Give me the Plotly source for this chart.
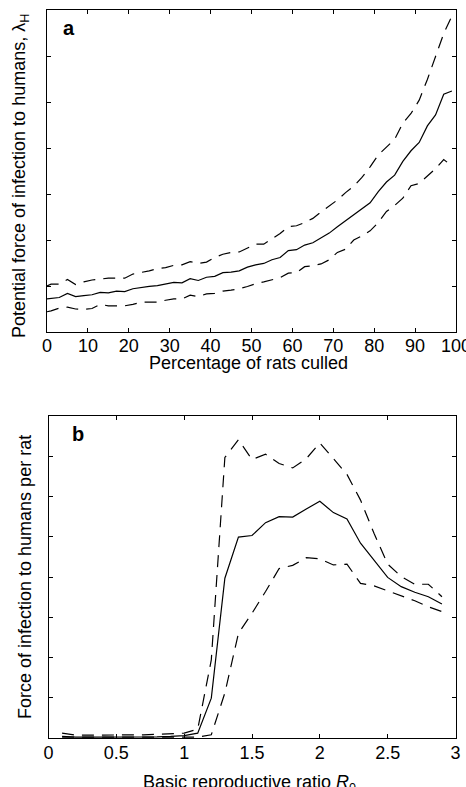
import plotly.graph_objects as go

# Panel a data
a_x = [0, 1, 3, 5, 7, 9, 11, 13, 15, 17, 19, 21, 23, 25, 27, 29, 31, 33, 35, 37, 39,
       41, 43, 45, 47, 49, 51, 53, 55, 57, 59, 61, 63, 65, 67, 69, 71, 73, 75, 77, 79,
       81, 83, 85, 87, 89, 91, 93, 95, 97, 99]
a_mean = [0.72, 0.73, 0.75, 0.84, 0.77, 0.79, 0.81, 0.86, 0.85, 0.89, 0.88, 0.94, 0.97, 0.99,
          1.01, 1.04, 1.08, 1.07, 1.16, 1.12, 1.19, 1.21, 1.29, 1.30, 1.33, 1.41, 1.46, 1.49,
          1.57, 1.62, 1.77, 1.79, 1.89, 1.94, 2.04, 2.15, 2.29, 2.42, 2.57, 2.70, 2.81, 3.05,
          3.26, 3.41, 3.71, 3.94, 4.12, 4.48, 4.72, 5.17, 5.24]
a_upper = [1.00, 1.04, 1.04, 1.14, 1.03, 1.09, 1.13, 1.15, 1.17, 1.17, 1.17, 1.26, 1.29, 1.33,
           1.38, 1.40, 1.45, 1.46, 1.53, 1.49, 1.52, 1.62, 1.69, 1.73, 1.74, 1.83, 1.91, 1.91,
           2.03, 2.14, 2.29, 2.31, 2.38, 2.47, 2.61, 2.74, 2.87, 3.03, 3.17, 3.36, 3.59, 3.85,
           4.03, 4.19, 4.54, 4.75, 5.04, 5.49, 5.99, 6.49, 6.87]
a_lower = [0.44, 0.46, 0.52, 0.54, 0.50, 0.49, 0.51, 0.60, 0.57, 0.57, 0.57, 0.60, 0.65, 0.65,
           0.65, 0.69, 0.72, 0.72, 0.80, 0.77, 0.83, 0.84, 0.89, 0.91, 0.94, 0.99, 1.05, 1.09,
           1.14, 1.18, 1.28, 1.29, 1.42, 1.44, 1.48, 1.57, 1.73, 1.80, 2.00, 2.09, 2.20, 2.38,
           2.62, 2.75, 2.91, 3.18, 3.23, 3.40, 3.55, 3.75, 3.61]

# Panel b data
b_x = [0.1, 0.2, 0.3, 0.4, 0.5, 0.6, 0.7, 0.8, 0.9, 1.0, 1.1, 1.2, 1.3, 1.4, 1.5,
       1.6, 1.7, 1.8, 1.9, 2.0, 2.1, 2.2, 2.3, 2.4, 2.5, 2.6, 2.7, 2.8, 2.9]
b_mean = [0.04, 0.02, 0.02, 0.02, 0.02, 0.02, 0.02, 0.03, 0.04, 0.06, 0.12, 0.99, 3.97, 4.99,
          5.03, 5.35, 5.50, 5.49, 5.69, 5.88, 5.60, 5.44, 4.84, 4.42, 3.99, 3.76, 3.62, 3.51, 3.33]
b_upper = [0.12, 0.07, 0.07, 0.07, 0.07, 0.07, 0.08, 0.09, 0.10, 0.12, 0.22, 1.94, 6.97, 7.41,
           6.92, 7.05, 6.82, 6.71, 6.94, 7.33, 6.94, 6.55, 5.91, 5.08, 4.32, 4.01, 3.82, 3.82, 3.51]
b_lower = [0.02, 0.02, 0.02, 0.02, 0.02, 0.02, 0.02, 0.02, 0.02, 0.02, 0.02, 0.08, 1.12, 2.60,
           3.10, 3.64, 4.21, 4.29, 4.48, 4.45, 4.30, 4.32, 3.84, 3.78, 3.66, 3.53, 3.41, 3.26, 3.14]

FONT = "Liberation Sans, Arial, Helvetica, sans-serif"
W, H = 466, 787

fig = go.Figure()
solid = dict(color="black", width=1.2)
dashed = dict(color="black", width=1.2, dash="12px,8px")

fig.add_trace(go.Scatter(x=a_x, y=a_upper, mode="lines", line=dashed, xaxis="x", yaxis="y"))
fig.add_trace(go.Scatter(x=a_x, y=a_mean, mode="lines", line=solid, xaxis="x", yaxis="y"))
fig.add_trace(go.Scatter(x=a_x, y=a_lower, mode="lines", line=dashed, xaxis="x", yaxis="y"))
fig.add_trace(go.Scatter(x=b_x, y=b_upper, mode="lines", line=dashed, xaxis="x2", yaxis="y2"))
fig.add_trace(go.Scatter(x=b_x, y=b_mean, mode="lines", line=solid, xaxis="x2", yaxis="y2"))
fig.add_trace(go.Scatter(x=b_x, y=b_lower, mode="lines", line=dashed, xaxis="x2", yaxis="y2"))

axis_common = dict(showline=True, linecolor="black", linewidth=1, mirror="ticks",
                   ticks="inside", ticklen=4, tickcolor="black", tickwidth=1,
                   showgrid=False, zeroline=False, fixedrange=True, automargin=False,
                   ticklabeloverflow="allow",
                   tickfont=dict(family=FONT, size=18, color="black"))

def px_dom_x(l, r):
    return [l / W, r / W]

def px_dom_y(top, bottom):
    return [(H - bottom) / H, (H - top) / H]

fig.update_layout(
    width=W, height=H,
    margin=dict(l=0, r=0, t=0, b=0),
    paper_bgcolor="white", plot_bgcolor="white",
    showlegend=False,
    xaxis=dict(axis_common, domain=px_dom_x(47, 456), range=[0, 100], tickvals=list(range(0, 101, 10)),
               anchor="y", ticklabelstandoff=-3),
    yaxis=dict(axis_common, domain=px_dom_y(10, 332), range=[0, 7], tickvals=list(range(0, 8)),
               showticklabels=False, anchor="x"),
    xaxis2=dict(axis_common, domain=px_dom_x(48.5, 455.5), range=[0, 3],
                tickvals=[0, 0.5, 1, 1.5, 2, 2.5, 3], ticktext=["0", "0.5", "1", "1.5", "2", "2.5", "3"],
                anchor="y2", ticklabelstandoff=-2),
    yaxis2=dict(axis_common, domain=px_dom_y(416, 738), range=[0, 8], tickvals=list(range(0, 9)),
                showticklabels=False, anchor="x2"),
)

ann_font = dict(family=FONT, size=18, color="black")
fig.add_annotation(x=248 / W, y=(H - 363) / H, xref="paper", yref="paper",
                   text="Percentage of rats culled", showarrow=False, font=ann_font,
                   xanchor="center", yanchor="middle")
fig.add_annotation(x=20 / W, y=(H - 176) / H, xref="paper", yref="paper",
                   text="Potential force of infection to humans, λ<sub>H</sub>", showarrow=False,
                   font=ann_font, textangle=-90, xanchor="center", yanchor="middle")
fig.add_annotation(x=69 / W, y=(H - 28) / H, xref="paper", yref="paper",
                   text="<b>a</b>", showarrow=False,
                   font=dict(family=FONT, size=20, color="black"), xanchor="center", yanchor="middle")

fig.add_annotation(x=250 / W, y=(H - 783) / H, xref="paper", yref="paper",
                   text="Basic reproductive ratio <i>R</i><sub>0</sub>", showarrow=False, font=ann_font,
                   xanchor="center", yanchor="middle")
fig.add_annotation(x=25 / W, y=(H - 577) / H, xref="paper", yref="paper",
                   text="Force of infection to humans per rat", showarrow=False,
                   font=ann_font, textangle=-90, xanchor="center", yanchor="middle")
fig.add_annotation(x=78 / W, y=(H - 434) / H, xref="paper", yref="paper",
                   text="<b>b</b>", showarrow=False,
                   font=dict(family=FONT, size=20, color="black"), xanchor="center", yanchor="middle")

fig.write_html("out.html", config=dict(displayModeBar=False),
               post_script="document.body.style.margin='0px';document.body.style.overflow='hidden';")
